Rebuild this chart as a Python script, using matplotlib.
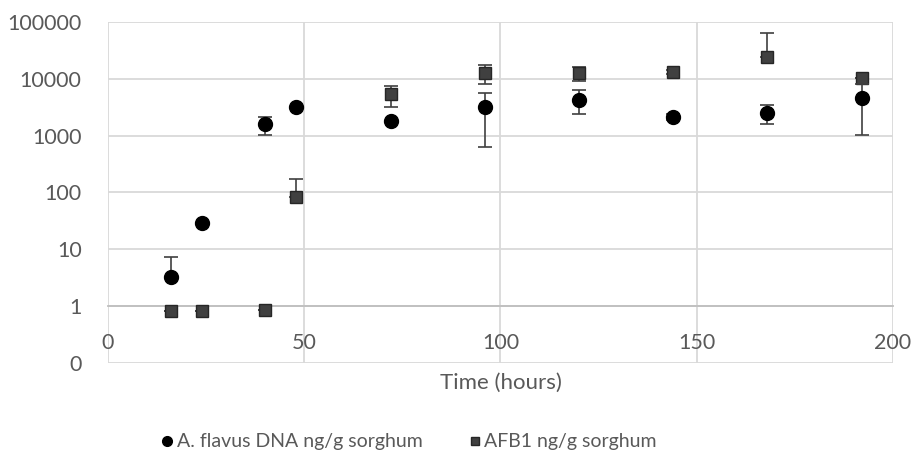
import numpy as np
import matplotlib.pyplot as plt
from matplotlib.lines import Line2D

plt.rcParams['font.family'] = ['Lato', 'DejaVu Sans']

# data (log scale)
hours = [16, 24, 40, 48, 72, 96, 120, 144, 168, 192]

dna = [3.2, 28.6, 1620, 3230, 1830, 3230, 4270, 2150, 2530, 4650]
dna_lo = [0, 0, 580, 0, 0, 2590, 1830, 300, 910, 3610]
dna_hi = [4.0, 0, 530, 0, 0, 2430, 2130, 300, 970, 3600]

afb1 = [0.82, 0.82, 0.85, 85, 5480, 12800, 12800, 13300, 24400, 10400]
afb1_lo = [0, 0, 0, 0, 2250, 4630, 3600, 1000, 0, 0]
afb1_hi = [0, 0, 0, 91, 2070, 4800, 3600, 1000, 39600, 0]

ytick_vals = [0.1, 1, 10, 100, 1000, 10000, 100000]
ytick_labels = ['0', '1', '10', '100', '1000', '10000', '100000']
xtick_vals = [0, 50, 100, 150, 200]

txt = '#595959'
grid = '#d9d9d9'

fig = plt.figure(figsize=(9.15, 4.59), dpi=100)
ax = fig.add_axes([108 / 915, 1 - 363 / 459, 785 / 915, 341 / 459])

ax.errorbar(hours, dna, yerr=[dna_lo, dna_hi], fmt='o', color='black',
            markersize=10, ecolor='#404040', elinewidth=1.2, capsize=5,
            capthick=1.2, zorder=4)
ax.errorbar(hours, afb1, yerr=[afb1_lo, afb1_hi], fmt='s', color='#404040',
            markeredgecolor='#262626', markersize=8, ecolor='#404040',
            elinewidth=1.2, capsize=5, capthick=1.2, zorder=3)

ax.set_yscale('log')
ax.set_ylim(0.1, 100000)
ax.set_xlim(0, 200)
ax.set_yticks(ytick_vals)
ax.set_yticklabels(ytick_labels)
ax.minorticks_off()
ax.set_xticks(xtick_vals)

ax.grid(True, color=grid, linewidth=1.3)
ax.set_axisbelow(True)
for s in ['top', 'right', 'left']:
    ax.spines[s].set_visible(False)
ax.spines['bottom'].set_position(('data', 1))
ax.spines['bottom'].set_color('#bfbfbf')
ax.spines['bottom'].set_linewidth(1.3)
ax.spines['bottom'].set_zorder(2)

ax.tick_params(axis='both', length=0, labelsize=15.5, labelcolor=txt)
ax.tick_params(axis='x', pad=19)
ax.tick_params(axis='y', pad=19)

ax.set_xlabel('Time (hours)', fontsize=16, color=txt)
ax.xaxis.set_label_coords(0.5, -0.03)

handles = [
    Line2D([], [], linestyle='none', marker='o', color='black', markersize=7),
    Line2D([], [], linestyle='none', marker='s', color='#404040',
           markeredgecolor='#262626', markersize=6),
]
labels = ['A. flavus DNA ng/g sorghum', 'AFB1 ng/g sorghum']
fig.legend(handles, labels, loc='center', bbox_to_anchor=(408 / 915, 1 - 442 / 459),
           ncol=2, frameon=False, fontsize=14, handletextpad=0.1,
           columnspacing=2.3, labelcolor=txt, handlelength=0.8)

fig.savefig('out.png', dpi=100)
